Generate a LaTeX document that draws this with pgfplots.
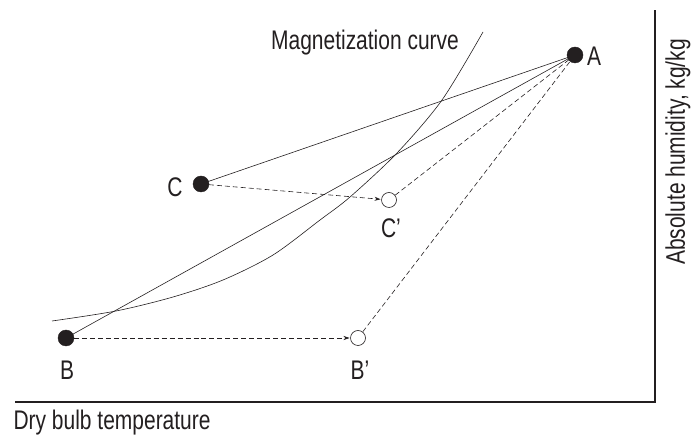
\documentclass[border=0pt]{standalone}
\usepackage{fontspec}
\setmainfont{Liberation Sans}[FakeStretch=0.78]
\usepackage{pgfplots}
\pgfplotsset{compat=1.18}
\usetikzlibrary{arrows.meta}
\definecolor{ink}{HTML}{231F20}
\begin{document}
\begin{tikzpicture}
\useasboundingbox (0,0) rectangle (697bp,435bp);
\begin{axis}[
  at={(0,0)}, anchor=south west,
  scale only axis, width=697bp, height=435bp,
  xmin=0, xmax=697, ymin=0, ymax=435,
  hide axis, clip=false,
  cycle list={{ink, line width=0.6pt}},
]
% frame lines
\addplot[ink, line width=1.1pt] coordinates {(15,33) (655,33) (655,425)};
% magnetization curve
\addplot[ink, line width=0.6pt, smooth] coordinates {(52,114) (116,124) (173,138) (223,155) (273,180) (320,215) (350,238) (397,282) (442,335) (483,403)};
% solid lines to A
\addplot[ink, line width=0.6pt] coordinates {(201,251) (575,380)};
\addplot[ink, line width=0.6pt] coordinates {(66,97) (575,380)};
% dashed lines
\addplot[ink, line width=0.6pt, dash pattern=on 5pt off 3pt] coordinates {(389,235) (575,380)};
\addplot[ink, line width=0.6pt, dash pattern=on 5pt off 3pt] coordinates {(358,97) (575,380)};
\addplot[ink, line width=0.6pt, dash pattern=on 5pt off 3pt, -{Stealth[length=6pt,width=4pt]}, shorten >=8.5bp] coordinates {(201,251) (389,235)};
\addplot[ink, line width=0.6pt, dash pattern=on 5pt off 3pt, -{Stealth[length=6pt,width=4pt]}, shorten >=8.5bp] coordinates {(66,97) (358,97)};
% filled points
\addplot[only marks, mark=*, mark size=8bp, mark options={fill=ink, draw=ink}] coordinates {(575,380) (201,251) (66,97)};
% open points
\addplot[only marks, mark=*, mark size=7.5bp, mark options={fill=white, draw=ink, line width=0.6pt}] coordinates {(389,235) (358,97)};
% labels
\node[ink, font=\fontsize{27}{32}\selectfont] at (axis cs:594,379) {A};
\node[ink, font=\fontsize{27}{32}\selectfont] at (axis cs:175,248) {C};
\node[ink, font=\fontsize{27}{32}\selectfont] at (axis cs:391,207) {C’};
\node[ink, font=\fontsize{27}{32}\selectfont] at (axis cs:67,65) {B};
\node[ink, font=\fontsize{27}{32}\selectfont] at (axis cs:360,65) {B’};
\node[ink, font=\fontsize{27}{32}\selectfont] at (axis cs:365,392) {Magnetization curve};
\node[ink, font=\fontsize{27}{32}\selectfont, anchor=west] at (axis cs:10,12) {Dry bulb temperature};
\node[ink, font=\fontsize{27}{32}\selectfont, rotate=90] at (axis cs:678,283) {Absolute humidity, kg/kg};
\end{axis}
\end{tikzpicture}
\end{document}
